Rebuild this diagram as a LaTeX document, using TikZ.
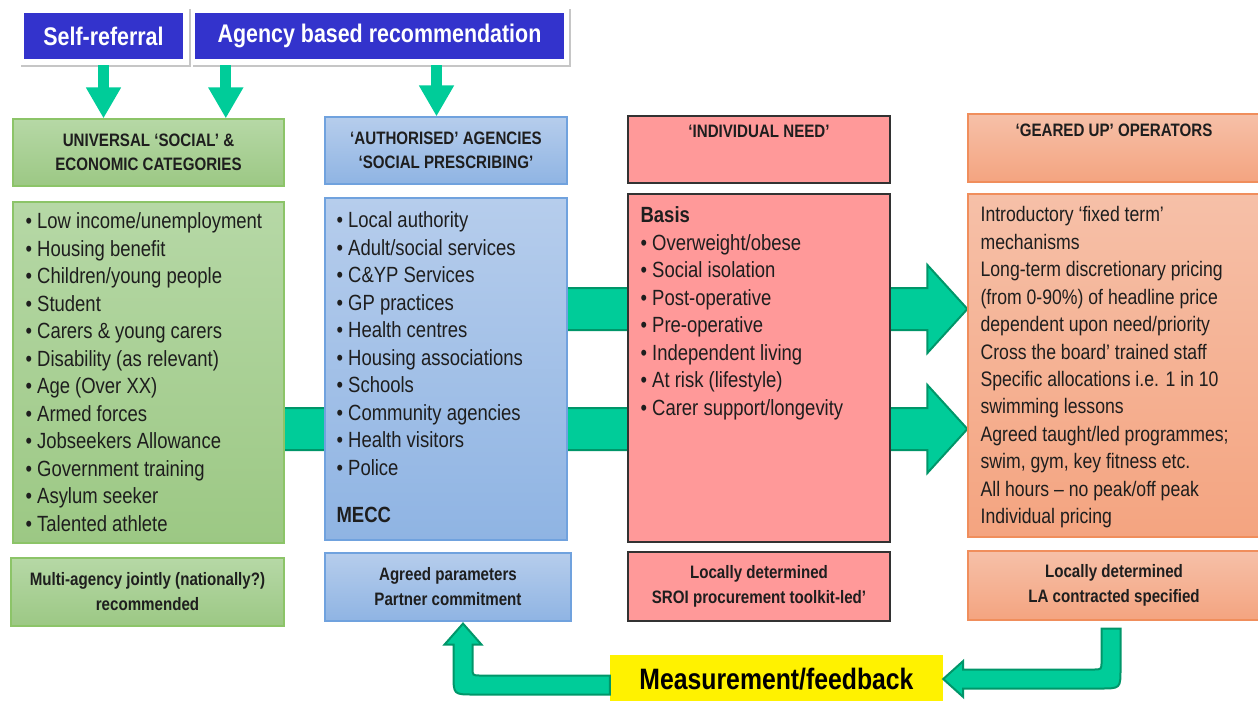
\documentclass[tikz,border=0pt]{standalone}
\usepackage{fontspec}
\setmainfont{Liberation Sans}[FakeStretch=0.84]
\usepackage{tikz}
\usetikzlibrary{arrows.meta, backgrounds, calc, positioning, shadows}

\definecolor{refblue}{RGB}{51,51,204}
\definecolor{arrowgreen}{RGB}{0,204,153}
\definecolor{arrowedge}{RGB}{0,150,105}
\definecolor{textdark}{RGB}{30,30,30}
\definecolor{greenA}{RGB}{182,216,166}
\definecolor{greenB}{RGB}{156,200,132}
\definecolor{greenedge}{RGB}{140,196,104}
\definecolor{blueA}{RGB}{182,205,236}
\definecolor{blueB}{RGB}{143,180,227}
\definecolor{blueedge}{RGB}{112,162,222}
\definecolor{pinkfill}{RGB}{255,153,153}
\definecolor{pinkedge}{RGB}{50,50,50}
\definecolor{orangeA}{RGB}{246,192,168}
\definecolor{orangeB}{RGB}{244,164,128}
\definecolor{orangeedge}{RGB}{240,142,92}

\begin{document}
\begin{tikzpicture}[x=1pt, y=-1pt,
	catbox/.style={draw, line width=1.2pt, text=textdark, inner sep=0pt, align=center},
	headtext/.style={font=\fontsize{18}{24}\selectfont\bfseries},
	greenbox/.style={catbox, draw=greenedge, top color=greenA, bottom color=greenB},
	bluebox/.style={catbox, draw=blueedge, top color=blueA, bottom color=blueB},
	pinkbox/.style={catbox, draw=pinkedge, fill=pinkfill},
	orangebox/.style={catbox, draw=orangeedge, top color=orangeA, bottom color=orangeB},
	listtext/.style={font=\fontsize{22}{27.5}\selectfont, align=left, text=textdark, inner sep=0pt},
	topframe/.style={fill=white, drop shadow={opacity=0.45, shadow xshift=2pt, shadow yshift=-2.5pt}},
	refbox/.style={fill=refblue, text=white, font=\fontsize{25.5}{30}\selectfont\bfseries},
	bararrow/.style={draw=arrowedge, line width=2pt, fill=arrowgreen, line join=miter},
	downarrow/.style={draw=arrowgreen, line width=11pt, -{Triangle[width=33pt,length=31pt]}}]
	\useasboundingbox (0,0) rectangle (1258,701);

	% referral routes
	\node[topframe, minimum width=170pt, minimum height=58pt] (selfframe) at (104,36) {};
	\node[topframe, minimum width=378pt, minimum height=58pt] (agencyframe) at (380,36) {};
	\node[refbox, minimum width=159pt, minimum height=46pt] (self) at (103.5,36) {Self-referral};
	\node[refbox, minimum width=369pt, minimum height=46pt] (agency) at (379.5,36) {Agency based recommendation};

	% column headings
	\node[greenbox, headtext, minimum width=271pt, minimum height=67pt] (greenhead) at (148.5,152.5) {UNIVERSAL ‘SOCIAL’ \&\\ECONOMIC CATEGORIES};
	\node[bluebox, headtext, minimum width=242pt, minimum height=67pt] (bluehead) at (446,150.5) {‘AUTHORISED’ AGENCIES\\‘SOCIAL PRESCRIBING’};
	\node[pinkbox, headtext, minimum width=262pt, minimum height=67pt] (pinkhead) at (759,149.5) {‘INDIVIDUAL NEED’\\[5pt]\strut};
	\node[orangebox, headtext, minimum width=292pt, minimum height=68pt] (orangehead) at (1114,148) {‘GEARED UP’ OPERATORS\\[5pt]\strut};

	% lists
	\node[greenbox, minimum width=271pt, minimum height=341pt] (greenlist) at (148.5,372.5) {};
	\node[bluebox, minimum width=242pt, minimum height=342pt] (bluelist) at (446,369) {};
	\node[pinkbox, minimum width=262pt, minimum height=348pt] (pinklist) at (759,368) {};
	\node[orangebox, minimum width=292pt, minimum height=343pt] (orangelist) at (1114,365.5) {};

	\node[listtext, below right=11pt and 13pt of greenlist.north west] (greentext) {\textbullet\ Low income/unemployment\\\textbullet\ Housing benefit\\\textbullet\ Children/young people\\\textbullet\ Student\\\textbullet\ Carers \& young carers\\\textbullet\ Disability (as relevant)\\\textbullet\ Age (Over XX)\\\textbullet\ Armed forces\\\textbullet\ Jobseekers Allowance\\\textbullet\ Government training\\\textbullet\ Asylum seeker\\\textbullet\ Talented athlete};
	\node[listtext, below right=14pt and 12pt of bluelist.north west] (bluetext) {\textbullet\ Local authority\\\textbullet\ Adult/social services\\\textbullet\ C\&YP Services\\\textbullet\ GP practices\\\textbullet\ Health centres\\\textbullet\ Housing associations\\\textbullet\ Schools\\\textbullet\ Community agencies\\\textbullet\ Health visitors\\\textbullet\ Police\\[20pt]\textbf{MECC}};
	\node[listtext, below right=13pt and 13pt of pinklist.north west] (pinktext) {\textbf{Basis}\\\textbullet\ Overweight/obese\\\textbullet\ Social isolation\\\textbullet\ Post-operative\\\textbullet\ Pre-operative\\\textbullet\ Independent living\\\textbullet\ At risk (lifestyle)\\\textbullet\ Carer support/longevity};
	\node[listtext, font=\fontsize{21}{27.45}\selectfont, below right=13pt and 13pt of orangelist.north west] (orangetext) {Introductory ‘fixed term’\\mechanisms\\Long-term discretionary pricing\\(from 0-90\%) of headline price\\dependent upon need/priority\\Cross the board’ trained staff\\Specific allocations i.e. 1 in 10\\swimming lessons\\Agreed taught/led programmes;\\swim, gym, key fitness etc.\\All hours – no peak/off peak\\Individual pricing};

	% footers
	\node[greenbox, headtext, font=\fontsize{18}{25}\selectfont\bfseries, minimum width=273pt, minimum height=68pt] (greenfoot) at (147.5,592) {Multi-agency jointly (nationally?)\\recommended};
	\node[bluebox, headtext, font=\fontsize{18}{25}\selectfont\bfseries, minimum width=246pt, minimum height=68pt] (bluefoot) at (448,587) {Agreed parameters\\Partner commitment};
	\node[pinkbox, headtext, font=\fontsize{18}{25}\selectfont\bfseries, minimum width=262pt, minimum height=69pt] (pinkfoot) at (759,586.5) {Locally determined\\SROI procurement toolkit-led’};
	\node[orangebox, headtext, font=\fontsize{18}{25}\selectfont\bfseries, minimum width=292pt, minimum height=69pt] (orangefoot) at (1114,585.5) {Locally determined\\LA contracted specified};
	\node[fill=yellow, text=black, font=\fontsize{29.5}{34}\selectfont\bfseries, minimum width=333pt, minimum height=48pt, inner sep=0pt] (feedback) at (776.5,679) {Measurement/feedback};

	% arrows into the headings
	\draw[downarrow] (selfframe.south -| self.south) -- (self.south |- greenhead.north);
	\draw[downarrow] ([xshift=35pt]agencyframe.south west) -- ([xshift=35pt]agencyframe.south west |- greenhead.north);
	\draw[downarrow] ([xshift=56.5pt]agencyframe.south) -- ([xshift=56.5pt]agencyframe.south |- bluehead.north);

	% arrows across the columns
	\coordinate (uptip) at (orangelist.west |- 0,309);
	\coordinate (lowtip) at (orangelist.west |- 0,429);
	\begin{scope}[on background layer]
		\draw[bararrow] (bluelist.center |- 0,288) -- ($(uptip)+(-40,-21)$) -- ($(uptip)+(-40,-44)$) -- (uptip) -- ($(uptip)+(-40,44)$) -- ($(uptip)+(-40,21)$) -- (bluelist.center |- 0,330) -- cycle;
		\draw[bararrow] (greenlist.center |- 0,408) -- ($(lowtip)+(-40,-21)$) -- ($(lowtip)+(-40,-44)$) -- (lowtip) -- ($(lowtip)+(-40,44)$) -- ($(lowtip)+(-40,21)$) -- (greenlist.center |- 0,450) -- cycle;
	\end{scope}

	% feedback loop
	\coordinate (rs) at ([xshift=-3pt,yshift=-8pt]orangefoot.south);
	\coordinate (rt) at (feedback.east);
	\coordinate (rc) at (rs |- rt);
	\draw[bararrow] ($(rs)+(-9.5,0)$) -- ($(rc)+(-9.5,-17.5)$) .. controls ($(rc)+(-9.5,-9.5)$) .. ($(rc)+(-17.5,-9.5)$) -- ($(rt)+(20,-9.5)$) -- ($(rt)+(20,-18)$) -- (rt) -- ($(rt)+(20,18)$) -- ($(rt)+(20,9.5)$) -- ($(rc)+(-10.5,9.5)$) .. controls ($(rc)+(9.5,9.5)$) .. ($(rc)+(9.5,-10.5)$) -- ($(rs)+(9.5,0)$) -- cycle;
	\coordinate (ls) at ([xshift=15pt,yshift=-2pt]bluefoot.south);
	\coordinate (lt) at ([yshift=-6pt]feedback.west);
	\coordinate (lc) at (ls |- lt);
	\draw[bararrow] (ls) -- ($(ls)+(18.5,21)$) -- ($(ls)+(9.5,21)$) -- ($(lc)+(9.5,-17.5)$) .. controls ($(lc)+(9.5,-9.5)$) .. ($(lc)+(17.5,-9.5)$) -- ($(lt)+(0,-9.5)$) -- ($(lt)+(0,9.5)$) -- ($(lc)+(10.5,9.5)$) .. controls ($(lc)+(-9.5,9.5)$) .. ($(lc)+(-9.5,-10.5)$) -- ($(ls)+(-9.5,21)$) -- ($(ls)+(-18.5,21)$) -- cycle;
\end{tikzpicture}
\end{document}
